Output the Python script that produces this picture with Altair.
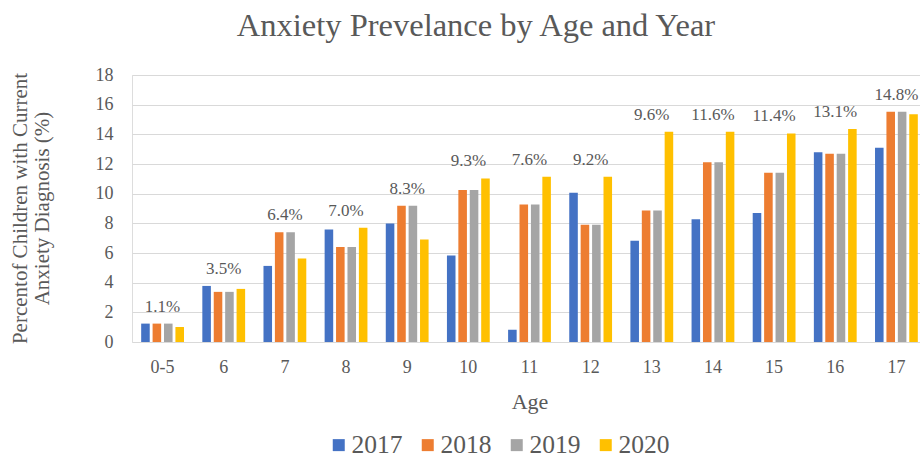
import altair as alt
import pandas as pd

ages = ["0-5", "6", "7", "8", "9", "10", "11", "12", "13", "14", "15", "16", "17"]
years = ["2017", "2018", "2019", "2020"]
v2017 = [1.24, 3.78, 5.13, 7.58, 7.99, 5.83, 0.83, 10.06, 6.82, 8.28, 8.69, 12.80, 13.10]
v2018 = [1.24, 3.38, 7.40, 6.41, 9.18, 10.24, 9.27, 7.90, 8.87, 12.11, 11.41, 12.69, 15.53]
v2019 = [1.24, 3.38, 7.40, 6.41, 9.18, 10.24, 9.27, 7.90, 8.87, 12.11, 11.41, 12.69, 15.53]
v2020 = [1.01, 3.58, 5.63, 7.70, 6.91, 11.03, 11.14, 11.14, 14.18, 14.18, 14.06, 14.36, 15.35]
avg_labels = ["1.1%", "3.5%", "6.4%", "7.0%", "8.3%", "9.3%", "7.6%", "9.2%",
              "9.6%", "11.6%", "11.4%", "13.1%", "14.8%"]

series = {"2017": v2017, "2018": v2018, "2019": v2019, "2020": v2020}
rows = []
for y in years:
    for a, v in zip(ages, series[y]):
        rows.append({"Age": a, "Year": y, "Value": v})
df = pd.DataFrame(rows)

lab = pd.DataFrame({
    "Age": ages,
    "Label": avg_labels,
    "Value": [max(a, b, c, d) for a, b, c, d in zip(v2017, v2018, v2019, v2020)],
})

FONT = "Liberation Serif"
TXT = "#595959"
colors = ["#4472C4", "#ED7D31", "#A5A5A5", "#FFC000"]

xscale = alt.Scale(domain=ages, range=[0, 795], paddingInner=0.3, paddingOuter=0.15)
yscale = alt.Scale(domain=[0, 18])

x_axis = alt.Axis(title="Age", labelAngle=0, labelFontSize=18, labelFont=FONT,
                  labelColor=TXT, labelPadding=16, ticks=False, domain=False,
                  titleFont=FONT, titleFontSize=22, titleColor=TXT,
                  titleFontWeight="normal", titleY=66, titleBaseline="alphabetic")
y_axis = alt.Axis(values=[0, 2, 4, 6, 8, 10, 12, 14, 16, 18], labelOverlap=False,
                  labelFontSize=18, labelFont=FONT,
                  labelColor=TXT, labelPadding=19, ticks=False, domain=False,
                  gridColor="#D9D9D9", gridWidth=1,
                  title=["Percentof Children with Current", "Anxiety Diagnosis (%)"],
                  titleFont=FONT, titleFontSize=21, titleColor=TXT,
                  titleFontWeight="normal", titleX=-112, titleY=133,
                  titleAngle=270, titleAlign="center", titleBaseline="middle",
                  titleLineHeight=22)

bars = alt.Chart(df).mark_bar().encode(
    x=alt.X("Age:N", sort=ages, scale=xscale, axis=x_axis),
    xOffset=alt.XOffset("Year:N", sort=years,
                        scale=alt.Scale(paddingInner=0.25, paddingOuter=0)),
    y=alt.Y("Value:Q", scale=yscale, axis=y_axis),
    color=alt.Color("Year:N", sort=years, scale=alt.Scale(domain=years, range=colors),
                    legend=alt.Legend(title=None, orient="none", legendX=194, legendY=357,
                                      direction="horizontal", columns=4,
                                      symbolType="square", symbolSize=144,
                                      symbolStrokeWidth=0, labelFontSize=25.5,
                                      labelFont=FONT, labelColor=TXT, labelOffset=0,
                                      columnPadding=12)),
)

labels = alt.Chart(lab).mark_text(font=FONT, fontSize=17, color=TXT,
                                  baseline="alphabetic", dy=-12).encode(
    x=alt.X("Age:N", sort=ages, scale=xscale, axis=x_axis),
    y=alt.Y("Value:Q", scale=yscale, axis=y_axis),
    text="Label:N",
)

chart = alt.layer(bars, labels).properties(
    width=788, height=267,
    autosize=alt.AutoSizeParams(type="none"),
    padding={"left": 132, "top": 75, "right": 0, "bottom": 116},
    title=alt.TitleParams("Anxiety Prevelance by Age and Year", font=FONT, fontSize=32.5,
                          color=TXT, fontWeight="normal", anchor="middle", dx=-50,
                          baseline="alphabetic", offset=6, dy=8),
).configure_view(stroke=None).configure(background="white")

chart.save("out.html", embed_options={"renderer": "svg", "actions": False})
